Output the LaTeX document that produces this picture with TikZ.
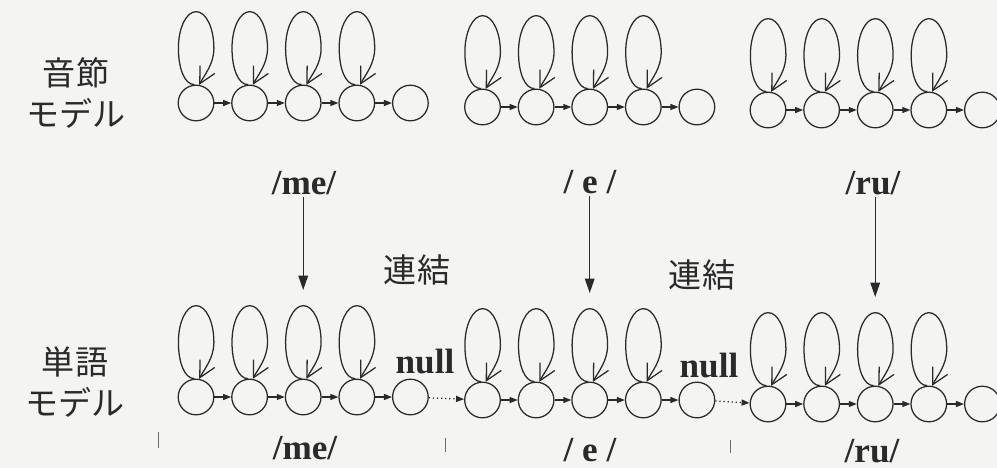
\documentclass[tikz,border=0pt]{standalone}
\usepackage{fontspec}
\setmainfont{Liberation Serif}
\newfontfamily\jafont{Noto Sans CJK JP}
\usetikzlibrary{arrows.meta,positioning}
\definecolor{ink}{HTML}{2A2A2A}
\definecolor{paperbg}{HTML}{F4F4F2}

\begin{document}
\begin{tikzpicture}[
  x=0.025cm,y=0.025cm,color=ink,line width=0.9pt,
  state/.style={circle,draw,minimum size=8.9mm,inner sep=0pt},
  trans/.style={-{Triangle[length=2mm,width=1.5mm]}},
  selfloop/.style={-{Straight Barb[length=4mm,width=4.2mm]}},
  feed/.style={-{Triangle[length=3.6mm,width=2.4mm]},line width=1pt},
  phon/.style={font=\fontsize{25}{30}\selectfont\bfseries,inner sep=1pt},
  model/.style={font=\jafont\fontsize{23.5}{28.5}\selectfont,align=center},
  linkword/.style={font=\jafont\fontsize{23.5}{28.5}\selectfont},
  bound/.style={line width=0.7pt,ink!70}
]
\fill[paperbg] (0,0) rectangle (997,-468);
\useasboundingbox (0,0) rectangle (997,-468);

% syllable models (top) and word model (bottom)
\foreach \g/\x/\y in {sme/196/103, se/482.5/107, sru/768/110,
                      wme/196/397, we/482.5/400, wru/768/404}{
  \foreach \i in {1,...,5}
    \node[state] (\g\i) at ({\x+53.6*(\i-1)},-\y) {};
}

% forward transitions and self loops
\foreach \g in {sme,se,sru,wme,we,wru}{
  \foreach \i/\j in {1/2,2/3,3/4,4/5}{
    \draw[trans] (\g\i) -- (\g\j);
    \draw[selfloop] (\g\i.95) .. controls +(180:10) and +(0,-20) .. ++(-16,36.5)
      .. controls +(0,20) and +(-10,0) .. ++(17.75,36.5)
      .. controls +(10,0) and +(0,20) .. ++(17.75,-36.5)
      .. controls +(0,-16) and +(62:12) .. (\g\i.80);
  }
}
\draw[trans,dotted] (wme5) -- (we1);
\draw[trans,dotted] (we5) -- (wru1);

% labels
\node[model] (syl)  at (76,-93)  {音節\\モデル};
\node[model] (word) at (75,-382) {単語\\モデル};
\node[phon] (lme) at (304,-183) {/me/};
\node[phon] (le)  at (590,-182) {/ e /};
\node[phon] (lru) at (873,-183) {/ru/};
\node[phon] (bme) at (305,-448) {/me/};
\node[phon] (be)  at (590,-450) {/ e /};
\node[phon] (bru) at (872,-451) {/ru/};
\node[phon] (null1) at (425,-362) {null};
\node[phon] (null2) at (709,-366) {null};
\node[linkword] (cat1) at (417,-270) {連結};
\node[linkword] (cat2) at (702,-275) {連結};

% concatenation
\draw[feed] (lme.south -| wme3) -- ([shift={(0,107)}]wme3.center);
\draw[feed] (le.south -| we3) -- ([shift={(0,107)}]we3.center);
\draw[feed] (lru.south -| wru3) -- ([shift={(0,107)}]wru3.center);

% word boundaries
\draw[bound] (158,-432) -- (158,-448);
\draw[bound] (445,-438) -- (445,-452);
\draw[bound] (730,-440) -- (730,-453);
\end{tikzpicture}
\end{document}
